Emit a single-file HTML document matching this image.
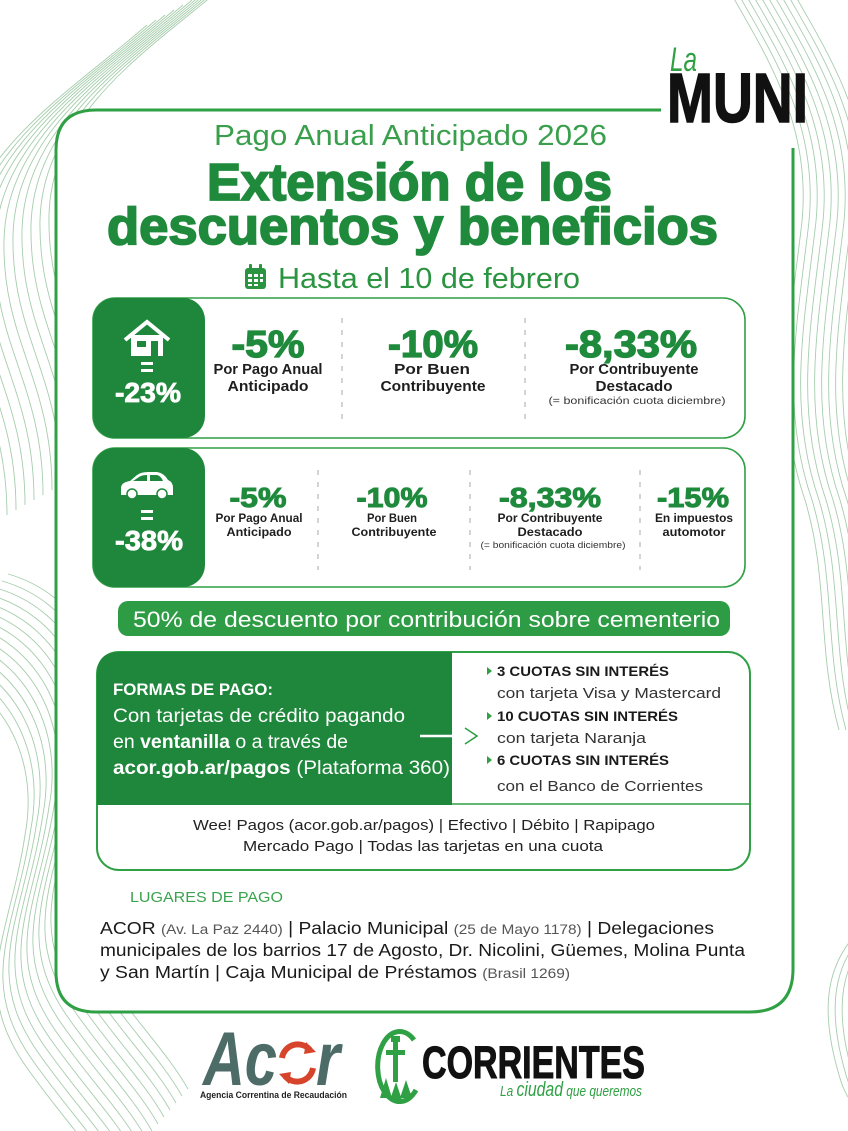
<!DOCTYPE html>
<html><head><meta charset="utf-8"><style>
html,body{margin:0;padding:0;background:#fff;}
svg{display:block;}
text{font-family:"Liberation Sans",sans-serif;}
</style></head><body>
<svg width="848" height="1131" viewBox="0 0 848 1131" xmlns="http://www.w3.org/2000/svg">
<defs>
<path id="tl" d="M210 -10 C130 60, 25 120, 22 230 C20 330, 70 370, 70 480" fill="none"/>
<path id="bl" d="M-40 630 C30 650, 70 720, 55 800 C40 900, 0 950, 55 1030 C90 1080, 120 1110, 140 1145" fill="none"/>
<path id="rt" d="M750 -10 C790 60, 835 130, 822 230 C810 330, 795 410, 826 500 C850 580, 838 650, 860 730" fill="none"/>
<path id="rb" d="M860 930 C830 960, 820 1000, 835 1060 C840 1080, 845 1100, 860 1110" fill="none"/>
</defs>
<rect width="848" height="1131" fill="#fff"/>
<!-- decorative lines -->
<g stroke="#a6cdac" stroke-width="0.9" fill="none">
<use href="#tl"/><use href="#tl" transform="translate(-9,5)"/><use href="#tl" transform="translate(-18,10)"/><use href="#tl" transform="translate(-27,15)"/><use href="#tl" transform="translate(-36,20)"/><use href="#tl" transform="translate(-45,25)"/><use href="#tl" transform="translate(-54,30)"/><use href="#tl" transform="translate(-63,35)"/><use href="#tl" transform="translate(9,-5)"/><use href="#tl" transform="translate(18,-10)"/><use href="#tl" transform="translate(27,-15)"/>
<use href="#bl"/><use href="#bl" transform="translate(-6,7)"/><use href="#bl" transform="translate(-12,14)"/><use href="#bl" transform="translate(-18,21)"/><use href="#bl" transform="translate(-24,28)"/><use href="#bl" transform="translate(-30,35)"/><use href="#bl" transform="translate(6,-7)"/><use href="#bl" transform="translate(12,-14)"/><use href="#bl" transform="translate(18,-21)"/><use href="#bl" transform="translate(24,-28)"/><use href="#bl" transform="translate(30,-35)"/><use href="#bl" transform="translate(36,-42)"/><use href="#bl" transform="translate(42,-49)"/><use href="#bl" transform="translate(48,-56)"/>
<use href="#rt"/><use href="#rt" transform="translate(7,0)"/><use href="#rt" transform="translate(14,0)"/><use href="#rt" transform="translate(21,0)"/><use href="#rt" transform="translate(28,0)"/><use href="#rt" transform="translate(35,0)"/><use href="#rt" transform="translate(42,0)"/><use href="#rt" transform="translate(-7,0)"/><use href="#rt" transform="translate(-14,0)"/><use href="#rt" transform="translate(-21,0)"/>
<use href="#rb"/><use href="#rb" transform="translate(7,0)"/><use href="#rb" transform="translate(14,0)"/>
</g>
<!-- main container -->
<path d="M96 110 H661 V148 H793 V969 Q793 1012 750 1012 H96 Q56 1012 56 972 V150 Q56 110 96 110 Z" fill="#fff"/>
<path d="M661 110 H96 Q56 110 56 150 V972 Q56 1012 96 1012 H750 Q793 1012 793 969 V148" fill="none" stroke="#2fa044" stroke-width="3"/>
<!-- La MUNI -->
<text x="670" y="71" font-size="34" font-style="italic" fill="#2fa044" textLength="27" lengthAdjust="spacingAndGlyphs">La</text>
<text x="667" y="122" font-size="70" font-weight="bold" fill="#111" stroke="#111" stroke-width="1.5" textLength="141" lengthAdjust="spacingAndGlyphs">MUNI</text>
<!-- Titles -->
<text x="214" y="145" font-size="29" fill="#3a9f4c" textLength="393" lengthAdjust="spacingAndGlyphs">Pago Anual Anticipado 2026</text>
<text x="207" y="200" font-size="52" font-weight="bold" fill="#1f8a3c" stroke="#1f8a3c" stroke-width="1.8" textLength="405" lengthAdjust="spacingAndGlyphs">Extensión de los</text>
<text x="107" y="244" font-size="52" font-weight="bold" fill="#1f8a3c" stroke="#1f8a3c" stroke-width="1.8" textLength="611" lengthAdjust="spacingAndGlyphs">descuentos y beneficios</text>
<!-- calendar -->
<g>
<rect x="245" y="268" width="21" height="21" rx="3" fill="#2a9440"/>
<rect x="249" y="264" width="3" height="6" rx="1" fill="#2a9440"/><rect x="259" y="264" width="3" height="6" rx="1" fill="#2a9440"/>
<g fill="#fff"><rect x="248" y="274" width="4" height="3"/><rect x="254" y="274" width="4" height="3"/><rect x="260" y="274" width="3" height="3"/><rect x="248" y="279" width="4" height="3"/><rect x="254" y="279" width="4" height="3"/><rect x="260" y="279" width="3" height="3"/><rect x="248" y="284" width="4" height="2"/><rect x="254" y="284" width="4" height="2"/></g>
</g>
<text x="278" y="288" font-size="29" fill="#2a9440" textLength="302" lengthAdjust="spacingAndGlyphs">Hasta el 10 de febrero</text>

<!-- House row -->
<rect x="93" y="298" width="652" height="140" rx="22" fill="#fff" stroke="#2fa044" stroke-width="1.6"/>
<rect x="93" y="298" width="112" height="140" rx="22" fill="#1f873c"/>
<polyline points="125,340 147,322 169,340" fill="none" stroke="#fff" stroke-width="4"/>
<rect x="131" y="335" width="32" height="21" fill="#fff"/>
<rect x="137" y="341" width="9" height="6" fill="#1f873c"/>
<rect x="151" y="341" width="7" height="15" fill="#1f873c"/>
<rect x="141" y="362" width="12" height="3" fill="#fff"/><rect x="141" y="369" width="12" height="3" fill="#fff"/>
<text x="148" y="402" font-size="28" font-weight="bold" fill="#fff" stroke="#fff" stroke-width="0.8" text-anchor="middle" textLength="66" lengthAdjust="spacingAndGlyphs">-23%</text>
<g stroke="#aaa" stroke-width="1" stroke-dasharray="5 7"><line x1="342" y1="318" x2="342" y2="420"/><line x1="525" y1="318" x2="525" y2="420"/></g>
<g font-weight="bold" fill="#1f8a3c" stroke="#1f8a3c" stroke-width="1.3" font-size="38" text-anchor="middle">
<text x="268" y="357" textLength="73" lengthAdjust="spacingAndGlyphs">-5%</text>
<text x="433" y="357" textLength="90" lengthAdjust="spacingAndGlyphs">-10%</text>
<text x="631" y="357" textLength="132" lengthAdjust="spacingAndGlyphs">-8,33%</text>
</g>
<g font-weight="bold" fill="#1e1e1e" font-size="14.5" text-anchor="middle">
<text x="268" y="374" textLength="109" lengthAdjust="spacingAndGlyphs">Por Pago Anual</text>
<text x="268" y="391" textLength="81" lengthAdjust="spacingAndGlyphs">Anticipado</text>
<text x="432" y="374" textLength="76" lengthAdjust="spacingAndGlyphs">Por Buen</text>
<text x="433" y="391" textLength="105" lengthAdjust="spacingAndGlyphs">Contribuyente</text>
<text x="634" y="374" textLength="129" lengthAdjust="spacingAndGlyphs">Por Contribuyente</text>
<text x="634" y="391" textLength="77" lengthAdjust="spacingAndGlyphs">Destacado</text>
</g>
<text x="637" y="404" font-size="10.5" fill="#333" text-anchor="middle" textLength="177" lengthAdjust="spacingAndGlyphs">(= bonificación cuota diciembre)</text>

<!-- Car row -->
<rect x="93" y="448" width="652" height="139" rx="22" fill="#fff" stroke="#2fa044" stroke-width="1.6"/>
<rect x="93" y="448" width="112" height="139" rx="22" fill="#1f873c"/>
<path d="M121 495 L121 487 Q122 482 130 481 L137 475 Q141 472 148 472 L157 472 Q164 473 168 480 Q173 482 173 488 L173 495 Z" fill="#fff"/>
<path d="M139 477 Q142 475 147 475 L147 481 L133 481 Z M150 475 L157 475 Q161 476 163 481 L150 481 Z" fill="#1f873c"/>
<circle cx="132" cy="494" r="5" fill="#fff" stroke="#1f873c" stroke-width="1.5"/>
<circle cx="162" cy="494" r="5" fill="#fff" stroke="#1f873c" stroke-width="1.5"/>
<rect x="141" y="510" width="12" height="3" fill="#fff"/><rect x="141" y="517" width="12" height="3" fill="#fff"/>
<text x="149" y="550" font-size="28" font-weight="bold" fill="#fff" stroke="#fff" stroke-width="0.8" text-anchor="middle" textLength="68" lengthAdjust="spacingAndGlyphs">-38%</text>
<g stroke="#aaa" stroke-width="1" stroke-dasharray="5 7"><line x1="318" y1="470" x2="318" y2="570"/><line x1="470" y1="470" x2="470" y2="570"/><line x1="640" y1="470" x2="640" y2="570"/></g>
<g font-weight="bold" fill="#1f8a3c" stroke="#1f8a3c" stroke-width="1" font-size="28" text-anchor="middle">
<text x="258" y="507" textLength="57" lengthAdjust="spacingAndGlyphs">-5%</text>
<text x="392" y="507" textLength="71" lengthAdjust="spacingAndGlyphs">-10%</text>
<text x="550" y="507" textLength="102" lengthAdjust="spacingAndGlyphs">-8,33%</text>
<text x="693" y="507" textLength="72" lengthAdjust="spacingAndGlyphs">-15%</text>
</g>
<g font-weight="bold" fill="#1e1e1e" font-size="12" text-anchor="middle">
<text x="259" y="522" textLength="87" lengthAdjust="spacingAndGlyphs">Por Pago Anual</text>
<text x="259" y="536" textLength="65" lengthAdjust="spacingAndGlyphs">Anticipado</text>
<text x="392" y="522" textLength="50" lengthAdjust="spacingAndGlyphs">Por Buen</text>
<text x="394" y="536" textLength="85" lengthAdjust="spacingAndGlyphs">Contribuyente</text>
<text x="550" y="522" textLength="105" lengthAdjust="spacingAndGlyphs">Por Contribuyente</text>
<text x="550" y="536" textLength="65" lengthAdjust="spacingAndGlyphs">Destacado</text>
<text x="694" y="522" textLength="78" lengthAdjust="spacingAndGlyphs">En impuestos</text>
<text x="694" y="536" textLength="63" lengthAdjust="spacingAndGlyphs">automotor</text>
</g>
<text x="553" y="548" font-size="9" fill="#333" text-anchor="middle" textLength="145" lengthAdjust="spacingAndGlyphs">(= bonificación cuota diciembre)</text>

<!-- Cemetery banner -->
<rect x="118" y="601" width="612" height="35" rx="10" fill="#2e9c44"/>
<text x="133" y="627" font-size="22" fill="#fff" textLength="587" lengthAdjust="spacingAndGlyphs">50% de descuento por contribución sobre cementerio</text>

<!-- Formas de pago -->
<rect x="97" y="652" width="653" height="218" rx="22" fill="#fff" stroke="#2fa044" stroke-width="2"/>
<path d="M97 805 V674 Q97 652 119 652 H452 V805 Z" fill="#1f873c"/>
<line x1="452" y1="804" x2="750" y2="804" stroke="#2fa044" stroke-width="1.5"/>
<text x="113" y="695" font-size="17" font-weight="bold" fill="#fff" textLength="160" lengthAdjust="spacingAndGlyphs">FORMAS DE PAGO:</text>
<text x="113" y="722" font-size="19" fill="#fff" textLength="292" lengthAdjust="spacingAndGlyphs">Con tarjetas de crédito pagando</text>
<text x="113" y="748" font-size="19" fill="#fff" textLength="235" lengthAdjust="spacingAndGlyphs">en <tspan font-weight="bold">ventanilla</tspan> o a través de</text>
<text x="113" y="774" font-size="19" fill="#fff" textLength="337" lengthAdjust="spacingAndGlyphs"><tspan font-weight="bold">acor.gob.ar/pagos</tspan> (Plataforma 360)</text>
<line x1="420" y1="736" x2="471" y2="736" stroke="#fff" stroke-width="2.5"/>
<polyline points="465,728 477,736 465,744" fill="none" stroke="#2fa044" stroke-width="1.6"/>
<g fill="#2fa044"><polygon points="487,667 492,671 487,675"/><polygon points="487,712 492,716 487,720"/><polygon points="487,756 492,760 487,764"/></g>
<g font-size="14" font-weight="bold" fill="#1a1a1a">
<text x="497" y="676" textLength="172" lengthAdjust="spacingAndGlyphs">3 CUOTAS SIN INTERÉS</text>
<text x="497" y="721" textLength="181" lengthAdjust="spacingAndGlyphs">10 CUOTAS SIN INTERÉS</text>
<text x="497" y="765" textLength="172" lengthAdjust="spacingAndGlyphs">6 CUOTAS SIN INTERÉS</text>
</g>
<g font-size="15" fill="#333">
<text x="497" y="698" textLength="224" lengthAdjust="spacingAndGlyphs">con tarjeta Visa y Mastercard</text>
<text x="497" y="743" textLength="149" lengthAdjust="spacingAndGlyphs">con tarjeta Naranja</text>
<text x="497" y="791" textLength="206" lengthAdjust="spacingAndGlyphs">con el Banco de Corrientes</text>
</g>
<text x="424" y="830" font-size="15" fill="#222" text-anchor="middle" textLength="462" lengthAdjust="spacingAndGlyphs">Wee! Pagos (acor.gob.ar/pagos) | Efectivo | Débito | Rapipago</text>
<text x="423" y="851" font-size="15" fill="#222" text-anchor="middle" textLength="360" lengthAdjust="spacingAndGlyphs">Mercado Pago | Todas las tarjetas en una cuota</text>

<!-- Lugares de pago -->
<text x="130" y="902" font-size="15" fill="#3aa34d" textLength="153" lengthAdjust="spacingAndGlyphs">LUGARES DE PAGO</text>
<g font-size="17.5" fill="#1a1a1a">
<text x="100" y="934" textLength="614" lengthAdjust="spacingAndGlyphs">ACOR <tspan font-size="14" fill="#555">(Av. La Paz 2440)</tspan> | Palacio Municipal <tspan font-size="14" fill="#555">(25 de Mayo 1178)</tspan> | Delegaciones</text>
<text x="100" y="956" textLength="645" lengthAdjust="spacingAndGlyphs">municipales de los barrios 17 de Agosto, Dr. Nicolini, Güemes, Molina Punta</text>
<text x="100" y="978" textLength="470" lengthAdjust="spacingAndGlyphs">y San Martín | Caja Municipal de Préstamos <tspan font-size="14" fill="#555">(Brasil 1269)</tspan></text>
</g>

<!-- Acor logo -->
<text x="203" y="1085" font-size="76" font-weight="bold" font-style="italic" fill="#4d6b67" textLength="74" lengthAdjust="spacingAndGlyphs">Ac</text>
<path d="M282 1058 A16 16 0 0 1 310 1050" fill="none" stroke="#d6452b" stroke-width="6"/>
<path d="M313 1068 A16 16 0 0 1 285 1076" fill="none" stroke="#d6452b" stroke-width="6"/>
<polygon points="306,1042 316,1052 304,1054" fill="#d6452b"/>
<polygon points="289,1084 279,1074 291,1072" fill="#d6452b"/>
<text x="316" y="1085" font-size="76" font-weight="bold" font-style="italic" fill="#4d6b67" textLength="24" lengthAdjust="spacingAndGlyphs">r</text>
<text x="200" y="1098" font-size="9" font-weight="bold" fill="#222" textLength="147" lengthAdjust="spacingAndGlyphs">Agencia Correntina de Recaudación</text>

<!-- Corrientes logo -->
<path d="M414 1040 A22 35 0 1 0 416 1090" fill="none" stroke="#2fa044" stroke-width="5"/>
<rect x="393" y="1040" width="5" height="42" fill="#2fa044"/>
<rect x="386" y="1050" width="19" height="5" fill="#2fa044"/>
<rect x="391" y="1036" width="9" height="6" fill="#2fa044"/>
<polygon points="380,1098 386,1078 392,1098" fill="#2fa044"/>
<polygon points="390,1100 396,1082 402,1100" fill="#2fa044"/>
<polygon points="400,1098 406,1080 412,1098" fill="#2fa044"/>
<text x="422" y="1078" font-size="45" font-weight="bold" fill="#111" stroke="#111" stroke-width="1" textLength="223" lengthAdjust="spacingAndGlyphs">CORRIENTES</text>
<text x="500" y="1096" font-size="15" font-style="italic" fill="#2fa044" font-family="Liberation Serif, serif" textLength="142" lengthAdjust="spacingAndGlyphs">La <tspan font-size="20">ciudad</tspan> que queremos</text>
</svg>
</body></html>
